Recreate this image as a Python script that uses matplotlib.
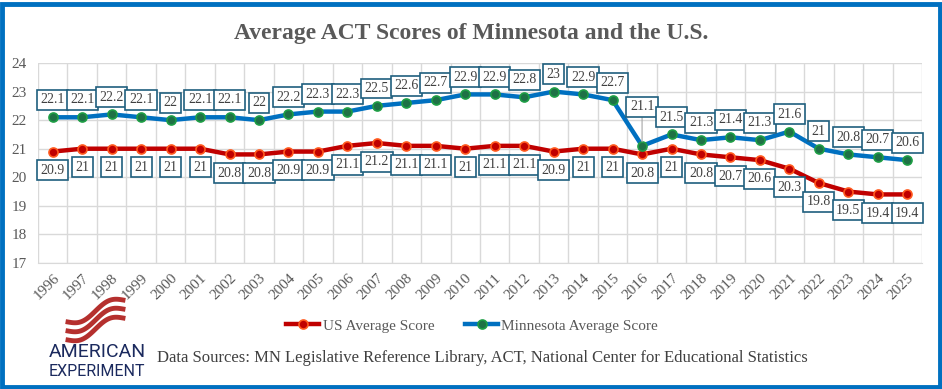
import numpy as np
import matplotlib.pyplot as plt
from matplotlib.patches import Rectangle

years = list(range(1996, 2026))
mn_scores = [22.1, 22.1, 22.2, 22.1, 22.0, 22.1, 22.1, 22.0, 22.2, 22.3,
             22.3, 22.5, 22.6, 22.7, 22.9, 22.9, 22.8, 23.0, 22.9, 22.7,
             21.1, 21.5, 21.3, 21.4, 21.3, 21.6, 21.0, 20.8, 20.7, 20.6]
us_scores = [20.9, 21.0, 21.0, 21.0, 21.0, 21.0, 20.8, 20.8, 20.9, 20.9,
             21.1, 21.2, 21.1, 21.1, 21.0, 21.1, 21.1, 20.9, 21.0, 21.0,
             20.8, 21.0, 20.8, 20.7, 20.6, 20.3, 19.8, 19.5, 19.4, 19.4]

plt.rcParams['font.family'] = ['Liberation Serif', 'DejaVu Serif']

def fmt(v):
    return str(int(v)) if v == int(v) else f"{v:g}"

fig = plt.figure(figsize=(9.42, 3.89), dpi=100)
ax = fig.add_axes([38/942, 1-263/389, (922-38)/942, 200/389])

x = np.arange(len(years))
ax.plot(x, us_scores, color='#C00000', lw=3.2, marker='o', ms=6.5,
        mfc='#C00000', mec='#FF5A1F', mew=1.2, label='US Average Score', zorder=3)
ax.plot(x, mn_scores, color='#0070C0', lw=3.2, marker='o', ms=6.5,
        mfc='#1E7145', mec='#1E9E45', mew=1.2, label='Minnesota Average Score', zorder=3)

ax.set_xlim(-0.5, len(years) - 0.5)
ax.set_ylim(17, 24)
ax.set_yticks(range(17, 25))
ax.set_xticks(x)
ax.set_xticklabels([str(y) for y in years], rotation=45, ha='right',
                   rotation_mode='anchor', fontsize=11, color='#595959')
ax.set_xticks(np.arange(-0.5, len(years)), minor=True)
ax.tick_params(axis='x', which='major', length=0, pad=6)
ax.tick_params(axis='x', which='minor', length=0)
ax.tick_params(axis='y', length=0, labelsize=11, labelcolor='#595959', pad=8)
ax.grid(axis='y', color='#D9D9D9', lw=1)
ax.grid(axis='x', which='minor', color='#D9D9D9', lw=1)
for s in ['top', 'right', 'left']:
    ax.spines[s].set_visible(False)
ax.spines['bottom'].set_color('#D9D9D9')
ax.set_axisbelow(True)

box = dict(boxstyle='square,pad=0.25', fc='white', ec='#1F5F7E', lw=1.2)
for i, (m, u) in enumerate(zip(mn_scores, us_scores)):
    if years[i] == 2016:
        ax.annotate(fmt(m), (i, m), xytext=(0, 28), textcoords='offset points',
                    ha='center', va='center', fontsize=10, color='#404040', bbox=box,
                    arrowprops=dict(arrowstyle='-', color='#A6A6A6', lw=0.8,
                                    shrinkA=0, shrinkB=3), zorder=4)
    else:
        ax.annotate(fmt(m), (i, m), xytext=(0, 12.5), textcoords='offset points',
                    ha='center', va='center', fontsize=10, color='#404040', bbox=box, zorder=4)
    ax.annotate(fmt(u), (i, u), xytext=(0, -13.5), textcoords='offset points',
                ha='center', va='center', fontsize=10, color='#404040', bbox=box, zorder=4)

fig.text(0.5, 1-33/389, 'Average ACT Scores of Minnesota and the U.S.', ha='center',
         va='center', fontsize=17, fontweight='bold', color='#595959')

fig.legend(loc='center', bbox_to_anchor=(472/942, 1-326/389), ncol=2, frameon=False,
           fontsize=11, labelcolor='#595959', handlelength=2.2, handletextpad=0.2,
           columnspacing=2.0)

fig.text(157/942, 1-358/389,
         'Data Sources: MN Legislative Reference Library, ACT, National Center for Educational Statistics',
         ha='left', va='center', fontsize=12, color='#404040')

# logo
fig.text(97/942, 1-352/389, 'AMERICAN', ha='center', va='center', fontsize=14,
         family=['Roboto', 'DejaVu Sans'], color='#1B2A5E')
fig.text(97/942, 1-372/389, 'EXPERIMENT', ha='center', va='center', fontsize=11.5,
         family=['Roboto', 'DejaVu Sans'], color='#1B2A5E')
t = np.linspace(0, 1, 50)
for k in range(3):
    xs = 68 + 55 * t
    ys = 340 - 9 * k - 22 * t + 5 * np.sin(t * 2 * np.pi)
    fig.lines.append(plt.Line2D(xs / 942, 1 - ys / 389, color='#B5302E', lw=3.5,
                                transform=fig.transFigure))

fig.patches.append(Rectangle((2/942, 2/389), 938/942, 383/389, fill=False,
                             ec='#0070C0', lw=3.5, transform=fig.transFigure))

fig.savefig('out.png', dpi=100)
